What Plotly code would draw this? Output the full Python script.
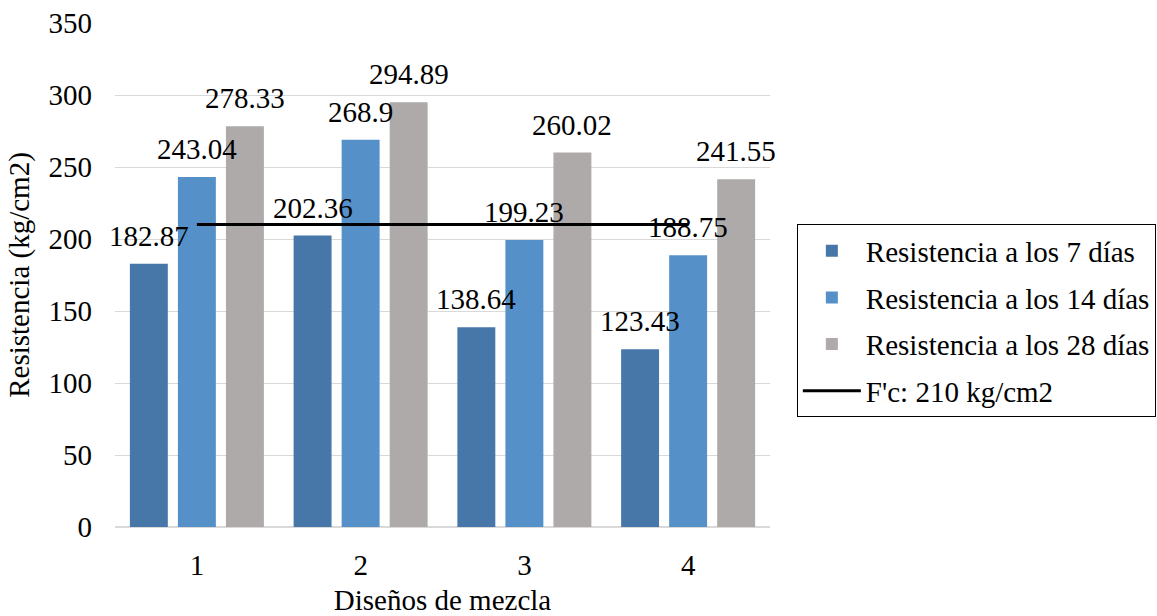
import plotly.graph_objects as go

categories = ["1", "2", "3", "4"]
r7 = [182.87, 202.36, 138.64, 123.43]
r14 = [243.04, 268.9, 199.23, 188.75]
r28 = [278.33, 294.89, 260.02, 241.55]
fc = [210, 210, 210, 210]
series_names = ["Resistencia a los 7 días", "Resistencia a los 14 días", "Resistencia a los 28 días"]
colors = ["#4677a8", "#5591c8", "#aeaaaa"]
fc_name = "F'c: 210 kg/cm2"

FONT = "Liberation Serif, Times New Roman, serif"
FS = 29
fig = go.Figure()
for i, (name, vals, col) in enumerate(zip(series_names, [r7, r14, r28], colors)):
    fig.add_trace(go.Bar(x=categories, y=vals, name=name, marker_color=col,
                         marker_line_width=0, legendgroup=f"g{i}"))
    for j, v in enumerate(vals):
        # category axis: annotation x given as category index
        fig.add_annotation(x=j, y=v, text=f"{v:g}", showarrow=False,
                           xshift=(i - 1) * 48, yshift=28,
                           font=dict(family=FONT, size=FS, color="black"))

fig.add_trace(go.Scatter(x=categories, y=fc, name=fc_name, mode="lines",
                         line=dict(color="black", width=3), legendgroup="g3"))

fig.update_layout(
    width=1157, height=616,
    margin=dict(l=115, r=387, t=23, b=89, autoexpand=False),
    plot_bgcolor="white", paper_bgcolor="white",
    barmode="group", bargap=0.12, bargroupgap=0.21,
    font=dict(family=FONT, size=FS, color="black"),
    showlegend=True,
    legend=dict(x=1.041, xanchor="left", y=0.409, yanchor="middle",
                bordercolor="black", borderwidth=1, tracegroupgap=6,
                font=dict(family=FONT, size=FS, color="black"),
                itemwidth=58),
)
fig.update_yaxes(range=[0, 350], dtick=50, showgrid=True, gridcolor="#d9d9d9",
                 gridwidth=1, zeroline=True, zerolinecolor="#d9d9d9",
                 zerolinewidth=2, showline=False, ticks="", ticklabelstandoff=22,
                 title=dict(text="Resistencia (kg/cm2)", standoff=10,
                            font=dict(family=FONT, size=FS)),
                 tickfont=dict(family=FONT, size=FS))
fig.update_xaxes(type="category", categoryorder="array", categoryarray=categories,
                 range=[-0.5, 3.5], showline=False, ticks="", showgrid=False,
                 ticklabelstandoff=18,
                 title=dict(text="Diseños de mezcla", standoff=12,
                            font=dict(family=FONT, size=FS)),
                 tickfont=dict(family=FONT, size=FS))

fig.write_html("out.html")
